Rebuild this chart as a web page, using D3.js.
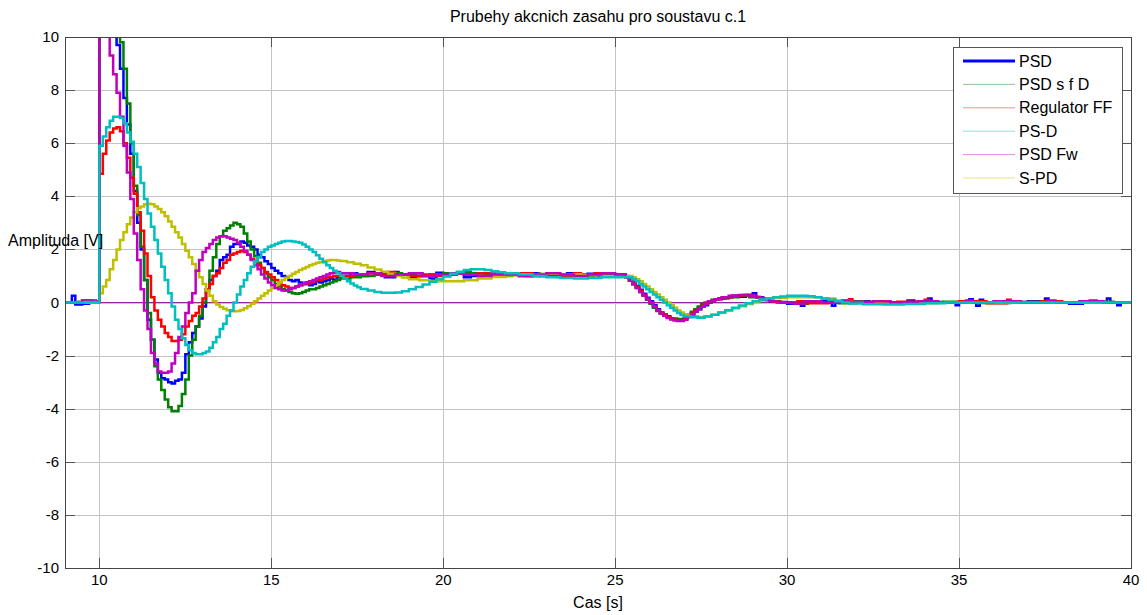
<!DOCTYPE html>
<html>
<head>
<meta charset="utf-8">
<script src="https://cdn.jsdelivr.net/npm/d3@7"></script>
<style>
body { margin: 0; background: #fff; }
text { font-family: "Liberation Sans", Arial, sans-serif; fill: #000; }
</style>
</head>
<body>
<div id="chart"></div>
<script>
// sample times of the fast part (10.0 .. 16.9 s, Ts = 0.1 s)
var tFine = [10.0,10.1,10.2,10.3,10.4,10.5,10.6,10.7,10.8,10.9,
  11.0,11.1,11.2,11.3,11.4,11.5,11.6,11.7,11.8,11.9,
  12.0,12.1,12.2,12.3,12.4,12.5,12.6,12.7,12.8,12.9,
  13.0,13.1,13.2,13.3,13.4,13.5,13.6,13.7,13.8,13.9,
  14.0,14.1,14.2,14.3,14.4,14.5,14.6,14.7,14.8,14.9,
  15.0,15.1,15.2,15.3,15.4,15.5,15.6,15.7,15.8,15.9,
  16.0,16.1,16.2,16.3,16.4,16.5,16.6,16.7,16.8,16.9];

// PSD
var psdFine = [15,14,13,12,10.8,9.7,8.8,7.7,6.7,5.6,
  4.2,3.0,2.0,0.85,-0.65,-1.4,-2.15,-2.65,-2.85,-2.9,
  -3.0,-3.05,-2.95,-2.9,-2.65,-1.95,-1.5,-1.15,-0.9,-0.6,
  -0.15,0.5,0.85,1.0,1.2,1.6,1.7,1.8,2.1,2.2,
  2.2,2.3,2.25,2.15,2.1,2.0,1.8,1.7,1.55,1.45,
  1.3,1.2,1.1,1.0,0.95,0.85,0.8,0.85,0.75,0.7,
  0.75,0.65,0.7,0.8,0.75,0.8,0.85,0.9,0.85,0.95];
var psdOther = [[9.0,0],[9.2,0.25],[9.3,-0.08],[9.5,-0.05],[9.7,0.03],[9.9,0.0],
  [17.0,1.0],[17.3,1.1],[17.5,1.0],[17.8,1.15],[18.0,1.05],[18.3,0.95],[18.6,1.15],[18.7,1.05],[19.0,0.95],[19.2,1.0],[19.6,0.9],[19.8,1.12],[20.0,1.05],[20.4,1.1],[20.6,0.95],[20.8,1.0],[21.2,1.08],[21.5,0.98],[21.8,1.05],[22.2,1.0],[22.6,1.1],[22.8,1.0],[23.2,1.02],[23.6,1.1],[23.8,1.02],[24.2,1.08],[24.5,1.0],[24.8,1.05],
  [25.3,1.0],[25.4,0.9],[25.5,0.78],[25.6,0.62],[25.7,0.48],[25.8,0.33],[25.9,0.18],[26.0,0.05],[26.1,-0.1],[26.2,-0.25],[26.3,-0.38],[26.4,-0.45],[26.5,-0.52],[26.6,-0.6],[26.7,-0.62],[26.8,-0.65],[27.0,-0.58],[27.1,-0.5],[27.2,-0.4],[27.3,-0.33],[27.4,-0.25],[27.5,-0.15],[27.6,-0.1],[27.7,0.0],[27.8,0.05],[27.9,0.1],[28.0,0.15],[28.2,0.2],[28.4,0.25],[28.6,0.22],[28.8,0.28],[29.0,0.35],[29.1,0.2],[29.3,0.1],[29.5,0.05],[29.7,0.02],
  [30.0,-0.05],[30.4,-0.12],[30.5,0.0],[31.0,0.05],[31.3,-0.12],[31.4,0.0],[31.8,0.05],[32.4,-0.05],[32.6,0.05],[33.0,0.0],[33.5,0.08],[33.7,0.0],[34.1,0.15],[34.2,0.0],[34.9,-0.1],[35.0,0.0],[35.3,0.12],[35.4,0.0],[35.5,-0.12],[35.6,0.1],[35.7,0.0],[36.2,0.05],[36.6,0.0],[37.0,0.05],[37.5,0.15],[37.6,0.0],[38.2,-0.05],[38.6,0.05],[39.0,0.0],[39.3,0.15],[39.4,0.0],[39.6,-0.1],[39.7,0.0],[40.0,0.0]];

// PSD s f D
var psdfFine = [16,15,14,13,12,11,9.8,8.8,7.5,6.0,
  4.4,3.3,2.1,0.85,-0.4,-1.4,-2.4,-2.9,-3.3,-3.65,
  -3.95,-4.1,-4.1,-3.9,-3.45,-2.9,-2.0,-1.4,-0.9,-0.5,
  0.0,0.5,1.2,1.7,2.2,2.5,2.7,2.8,2.9,3.0,
  2.95,2.85,2.6,2.3,2.0,1.75,1.5,1.3,1.1,0.95,
  0.85,0.7,0.6,0.5,0.45,0.4,0.35,0.33,0.35,0.4,
  0.45,0.5,0.5,0.55,0.6,0.65,0.7,0.75,0.8,0.85];
var psdfOther = [[9.0,0],[9.4,0.03],[9.7,0.0],
  [17.0,0.9],[17.3,0.95],[17.6,1.0],[18.0,1.05],[18.4,1.1],[18.8,1.05],[19.2,1.0],[19.6,1.05],[20.0,1.1],[20.4,1.15],[20.8,1.1],[21.2,1.05],[21.6,1.0],[22.0,1.05],[22.4,1.0],[22.8,1.05],[23.2,1.0],[23.6,1.05],[24.0,1.0],[24.4,1.05],[24.8,1.0],
  [25.3,0.95],[25.4,0.85],[25.5,0.7],[25.6,0.55],[25.7,0.4],[25.8,0.25],[25.9,0.1],[26.0,-0.05],[26.1,-0.2],[26.2,-0.32],[26.3,-0.42],[26.4,-0.5],[26.5,-0.55],[26.6,-0.6],[26.8,-0.62],[27.0,-0.55],[27.1,-0.45],[27.2,-0.35],[27.3,-0.25],[27.4,-0.15],[27.5,-0.05],[27.6,0.0],[27.8,0.1],[28.0,0.15],[28.3,0.2],[28.6,0.25],[28.9,0.2],[29.2,0.15],[29.5,0.05],[29.8,0.0],
  [30.2,-0.05],[30.6,0.0],[31.5,-0.03],[32.0,0.02],[33.0,0.0],[34.5,0.03],[35.5,-0.02],[36.5,0.02],[37.5,0.0],[38.5,0.03],[39.5,0.0],[40.0,0.0]];

// Regulator FF
var ffFine = [4.85,5.6,6.1,6.4,6.55,6.6,6.45,6.0,5.45,4.7,
  4.1,3.4,2.7,1.85,1.0,0.2,-0.3,-0.65,-0.9,-1.15,
  -1.3,-1.45,-1.45,-1.4,-1.2,-0.9,-0.7,-0.5,-0.4,-0.15,
  0.15,0.5,0.7,1.0,1.1,1.3,1.5,1.6,1.8,1.85,
  1.9,1.95,1.9,1.8,1.65,1.55,1.4,1.3,1.15,1.05,
  0.95,0.85,0.75,0.65,0.6,0.55,0.55,0.6,0.65,0.7,
  0.7,0.75,0.8,0.85,0.85,0.9,0.95,0.95,1.0,1.0];
var ffOther = [[9.0,0],[9.5,0.08],[9.8,0.05],
  [17.0,1.0],[17.4,1.05],[17.8,1.1],[18.2,1.05],[18.4,1.15],[18.6,1.05],[19.0,1.0],[19.4,1.05],[19.8,1.0],[20.2,1.1],[20.6,1.05],[21.0,1.1],[21.4,1.0],[21.8,1.05],[22.2,1.1],[22.6,1.0],[23.0,1.05],[23.4,1.0],[23.8,1.1],[24.0,1.05],[24.4,1.1],[24.6,1.0],[25.0,1.05],
  [25.3,0.95],[25.4,0.85],[25.5,0.72],[25.6,0.58],[25.7,0.44],[25.8,0.3],[25.9,0.15],[26.0,0.0],[26.1,-0.15],[26.2,-0.28],[26.3,-0.4],[26.4,-0.48],[26.5,-0.55],[26.6,-0.62],[26.7,-0.65],[26.8,-0.68],[27.0,-0.62],[27.1,-0.52],[27.2,-0.42],[27.3,-0.32],[27.4,-0.22],[27.5,-0.12],[27.6,-0.05],[27.7,0.05],[27.9,0.12],[28.1,0.2],[28.4,0.25],[28.7,0.28],[29.0,0.22],[29.2,0.15],[29.4,0.08],[29.6,0.03],[29.8,0.0],
  [30.3,0.05],[30.6,-0.03],[31.2,0.02],[31.8,0.12],[31.9,0.02],[32.6,-0.05],[33.2,0.03],[34.0,0.1],[34.1,0.0],[35.0,0.05],[35.8,-0.03],[36.4,0.1],[36.5,0.02],[37.4,0.05],[38.0,0.0],[38.8,0.08],[39.0,0.0],[40.0,0.0]];

// PS-D
var psdSepFine = [5.9,6.25,6.6,6.85,7.0,7.0,6.95,6.75,6.4,6.05,
  5.6,5.1,4.5,3.9,3.35,2.85,2.35,1.85,1.35,0.85,
  0.35,-0.15,-0.65,-1.0,-1.35,-1.6,-1.8,-1.9,-1.95,-1.95,
  -1.9,-1.85,-1.7,-1.5,-1.3,-1.0,-0.8,-0.5,-0.3,0.0,
  0.3,0.6,0.85,1.1,1.35,1.55,1.7,1.9,2.0,2.1,
  2.15,2.2,2.25,2.3,2.32,2.32,2.3,2.28,2.25,2.18,
  2.1,2.0,1.9,1.78,1.65,1.52,1.4,1.3,1.2,1.1];
var psdSepOther = [[9.0,0],[9.6,0.02],[9.9,0.0],
  [17.0,1.0],[17.1,0.9],[17.2,0.8],[17.3,0.72],[17.4,0.64],[17.5,0.57],[17.6,0.51],[17.8,0.45],[18.0,0.4],[18.2,0.37],[18.6,0.38],[18.8,0.42],[19.0,0.5],[19.2,0.58],[19.4,0.68],[19.6,0.78],[19.8,0.88],[20.0,0.98],[20.2,1.08],[20.4,1.15],[20.6,1.22],[20.8,1.25],[21.2,1.22],[21.4,1.18],[21.6,1.14],[21.8,1.1],[22.2,1.05],[22.6,1.0],[23.0,0.95],[23.4,0.92],[23.8,0.9],[24.2,0.92],[24.6,0.95],
  [25.5,0.88],[25.6,0.8],[25.7,0.7],[25.8,0.6],[25.9,0.5],[26.0,0.4],[26.1,0.3],[26.2,0.2],[26.3,0.1],[26.4,0.0],[26.5,-0.1],[26.6,-0.2],[26.7,-0.3],[26.8,-0.4],[26.9,-0.47],[27.0,-0.52],[27.2,-0.56],[27.4,-0.57],[27.6,-0.53],[27.8,-0.46],[28.0,-0.38],[28.2,-0.29],[28.4,-0.2],[28.6,-0.11],[28.8,-0.03],[29.0,0.05],[29.2,0.11],[29.4,0.16],[29.6,0.2],[29.8,0.23],[30.0,0.25],
  [30.6,0.24],[30.8,0.2],[31.0,0.15],[31.2,0.1],[31.4,0.05],[31.6,0.0],[31.8,-0.04],[32.2,-0.07],[32.8,-0.08],[33.4,-0.06],[34.0,-0.03],[34.6,0.0],[40.0,0.0]];

// PSD Fw
var fwFine = [14,13,11.5,9.3,8.6,7.9,7.0,5.9,4.9,3.9,
  2.6,1.6,0.5,-0.3,-1.0,-1.9,-2.3,-2.6,-2.65,-2.65,
  -2.6,-2.3,-1.9,-1.3,-0.9,-0.4,0.0,0.35,1.2,1.6,
  1.9,2.05,2.2,2.35,2.45,2.5,2.5,2.45,2.4,2.35,
  2.25,2.1,1.95,1.8,1.6,1.4,1.25,1.05,0.9,0.75,
  0.65,0.55,0.5,0.45,0.45,0.5,0.55,0.6,0.65,0.7,
  0.75,0.8,0.85,0.9,0.95,1.0,1.05,1.1,1.12,1.15];
var fwOther = [[9.0,0],[9.5,0.08],[9.9,0.05],
  [17.0,1.1],[17.4,1.05],[17.8,1.1],[18.2,1.0],[18.6,1.05],[19.0,1.1],[19.4,1.0],[19.8,1.05],[20.2,1.1],[20.6,1.05],[21.0,1.0],[21.4,1.08],[21.8,1.05],[22.2,1.0],[22.6,1.05],[23.0,1.1],[23.4,1.05],[23.8,1.0],[24.2,1.05],[24.6,1.1],[25.0,1.05],
  [25.3,0.95],[25.4,0.82],[25.5,0.68],[25.6,0.55],[25.7,0.4],[25.8,0.26],[25.9,0.12],[26.0,-0.02],[26.1,-0.16],[26.2,-0.3],[26.3,-0.42],[26.4,-0.5],[26.5,-0.58],[26.6,-0.64],[26.7,-0.68],[26.8,-0.7],[27.0,-0.65],[27.1,-0.55],[27.2,-0.45],[27.3,-0.35],[27.4,-0.25],[27.5,-0.15],[27.6,-0.05],[27.7,0.05],[27.9,0.12],[28.1,0.2],[28.3,0.25],[28.6,0.28],[28.9,0.25],[29.1,0.18],[29.3,0.1],[29.5,0.05],[29.7,0.0],
  [30.2,-0.05],[30.5,0.05],[31.0,0.0],[31.6,0.08],[31.8,0.0],[32.5,0.05],[33.0,-0.03],[33.8,0.05],[34.4,0.0],[35.2,0.08],[35.4,0.0],[36.0,0.05],[36.8,0.0],[37.6,0.08],[37.8,0.0],[38.5,0.05],[39.2,0.0],[40.0,0.0]];

// S-PD
var spdFine = [0.35,0.6,0.85,1.25,1.6,2.0,2.35,2.65,2.95,3.2,
  3.4,3.55,3.62,3.7,3.72,3.7,3.62,3.52,3.4,3.25,
  3.05,2.85,2.65,2.45,2.2,1.95,1.7,1.45,1.2,0.95,
  0.7,0.45,0.25,0.05,-0.08,-0.17,-0.24,-0.29,-0.32,-0.33,
  -0.32,-0.28,-0.22,-0.14,-0.05,0.05,0.15,0.25,0.35,0.45,
  0.55,0.65,0.75,0.85,0.93,1.0,1.08,1.15,1.22,1.28,
  1.34,1.4,1.45,1.5,1.53,1.56,1.58,1.6,1.6,1.58];
var spdOther = [[9.0,0],[9.9,0.0],
  [17.0,1.56],[17.2,1.52],[17.4,1.46],[17.6,1.4],[17.8,1.32],[18.0,1.24],[18.2,1.16],[18.4,1.08],[18.6,1.0],[18.8,0.94],[19.0,0.88],[19.3,0.84],[19.6,0.8],[20.2,0.8],[20.6,0.84],[21.0,0.9],[21.4,0.96],[21.8,1.02],[22.2,1.06],[22.8,1.08],[23.4,1.06],[24.0,1.03],[24.6,1.0],
  [25.5,0.95],[25.6,0.88],[25.7,0.8],[25.8,0.7],[25.9,0.6],[26.0,0.5],[26.1,0.4],[26.2,0.3],[26.3,0.2],[26.4,0.1],[26.5,0.0],[26.6,-0.1],[26.7,-0.2],[26.8,-0.3],[26.9,-0.38],[27.0,-0.45],[27.2,-0.52],[27.4,-0.55],[27.6,-0.52],[27.8,-0.46],[28.0,-0.38],[28.2,-0.3],[28.4,-0.22],[28.6,-0.14],[28.8,-0.06],[29.0,0.02],[29.2,0.08],[29.4,0.13],[29.6,0.17],[30.0,0.2],
  [30.6,0.2],[31.0,0.15],[31.4,0.08],[31.8,0.02],[32.2,-0.03],[32.8,-0.05],[33.6,-0.03],[34.4,0.0],[40.0,0.0]];

var seriesNames = ["PSD", "PSD s f D", "Regulator FF", "PS-D", "PSD Fw", "S-PD"];
var seriesColors = ["#0000ff", "#008000", "#ff0000", "#00bfbf", "#bf00bf", "#bfbf00"];
var fineValues = [psdFine, psdfFine, ffFine, psdSepFine, fwFine, spdFine];
var otherValues = [psdOther, psdfOther, ffOther, psdSepOther, fwOther, spdOther];
var drawOrder = [0, 1, 2, 5, 4, 3];

var xTicks = [10, 15, 20, 25, 30, 35, 40];
var yTicks = [-10, -8, -6, -4, -2, 0, 2, 4, 6, 8, 10];

// build one staircase signal per controller
var series = seriesNames.map(function(name, i) {
  var pts = otherValues[i].map(function(p) { return {t: p[0], v: p[1]}; });
  tFine.forEach(function(t, k) { pts.push({t: t, v: fineValues[i][k]}); });
  pts.sort(function(a, b) { return a.t - b.t; });
  return {name: name, color: seriesColors[i], values: pts};
});

var W = 1147, H = 615;
var margin = {top: 37, right: 16, bottom: 47, left: 65},
    width = W - margin.left - margin.right,
    height = H - margin.top - margin.bottom;

var svg = d3.select("#chart")
  .append("svg")
    .attr("width", W)
    .attr("height", H);

var g = svg.append("g")
    .attr("transform", "translate(" + margin.left + "," + margin.top + ")");

var x = d3.scaleLinear().domain([9, 40]).range([0, width]);
var y = d3.scaleLinear().domain([-10, 10]).range([height, 0]);

g.append("rect")
  .attr("width", width).attr("height", height)
  .attr("fill", "#fff");

// grid
g.selectAll(".xgrid").data(xTicks).enter().append("line")
  .attr("x1", function(d) { return Math.round(x(d)) + 0.5; })
  .attr("x2", function(d) { return Math.round(x(d)) + 0.5; })
  .attr("y1", 0).attr("y2", height)
  .attr("stroke", "#c4c4c4").attr("stroke-width", 1);
g.selectAll(".ygrid").data(yTicks).enter().append("line")
  .attr("y1", function(d) { return Math.round(y(d)) + 0.5; })
  .attr("y2", function(d) { return Math.round(y(d)) + 0.5; })
  .attr("x1", 0).attr("x2", width)
  .attr("stroke", "#c4c4c4").attr("stroke-width", 1);

// ticks (inward, all four sides)
var tl = 10;
xTicks.forEach(function(d) {
  var px = Math.round(x(d)) + 0.5;
  g.append("line").attr("x1", px).attr("x2", px).attr("y1", height).attr("y2", height - tl).attr("stroke", "#555");
  g.append("line").attr("x1", px).attr("x2", px).attr("y1", 0).attr("y2", tl).attr("stroke", "#555");
});
yTicks.forEach(function(d) {
  var py = Math.round(y(d)) + 0.5;
  g.append("line").attr("x1", 0).attr("x2", tl).attr("y1", py).attr("y2", py).attr("stroke", "#555");
  g.append("line").attr("x1", width).attr("x2", width - tl).attr("y1", py).attr("y2", py).attr("stroke", "#555");
});

g.append("clipPath").attr("id", "plotclip")
  .append("rect").attr("width", width).attr("height", height);

// reference line at zero
g.append("line")
  .attr("x1", 0).attr("x2", width)
  .attr("y1", y(0)).attr("y2", y(0))
  .attr("stroke", "#8e2a9a").attr("stroke-width", 1.2);

var line = d3.line()
  .x(function(d) { return x(d.t); })
  .y(function(d) { return y(d.v); })
  .curve(d3.curveStepAfter);

var plot = g.append("g").attr("clip-path", "url(#plotclip)");
drawOrder.forEach(function(i) {
  plot.append("path")
    .datum(series[i].values)
    .attr("fill", "none")
    .attr("stroke", series[i].color)
    .attr("stroke-width", 2.5)
    .attr("stroke-linejoin", "miter")
    .attr("d", line);
});

// frame
g.append("rect")
  .attr("x", 0.5).attr("y", 0.5)
  .attr("width", width).attr("height", height)
  .attr("fill", "none").attr("stroke", "#444").attr("stroke-width", 1);

// tick labels
g.selectAll(".xl").data(xTicks).enter().append("text")
  .attr("x", function(d) { return x(d); })
  .attr("y", height + 17)
  .attr("text-anchor", "middle")
  .style("font-size", "15px")
  .text(function(d) { return d; });
g.selectAll(".yl").data(yTicks).enter().append("text")
  .attr("x", -6)
  .attr("y", function(d) { return y(d) + 5; })
  .attr("text-anchor", "end")
  .style("font-size", "15px")
  .text(function(d) { return d; });

// titles
svg.append("text")
  .attr("x", margin.left + width / 2).attr("y", 22)
  .attr("text-anchor", "middle")
  .style("font-size", "16px")
  .text("Prubehy akcnich zasahu pro soustavu c.1");
svg.append("text")
  .attr("x", margin.left + width / 2).attr("y", 608)
  .attr("text-anchor", "middle")
  .style("font-size", "16px")
  .text("Cas [s]");
svg.append("text")
  .attr("x", 8).attr("y", 246)
  .style("font-size", "16px")
  .text("Amplituda [V]");

// legend
var legend = svg.append("g").attr("transform", "translate(953,47)");
legend.append("rect")
  .attr("x", 0.5).attr("y", 0.5)
  .attr("width", 169).attr("height", 146)
  .attr("fill", "#fff").attr("stroke", "#555");
series.forEach(function(s, i) {
  var ly = 14 + i * 23.4;
  legend.append("line")
    .attr("x1", 10).attr("x2", 62)
    .attr("y1", ly).attr("y2", ly)
    .attr("stroke", s.color)
    .attr("stroke-width", i === 0 ? 3 : 1)
    .attr("stroke-opacity", i === 0 ? 1 : 0.45);
  legend.append("text")
    .attr("x", 66).attr("y", ly + 5.5)
    .style("font-size", "16px")
    .text(s.name);
});
</script>
</body>
</html>
